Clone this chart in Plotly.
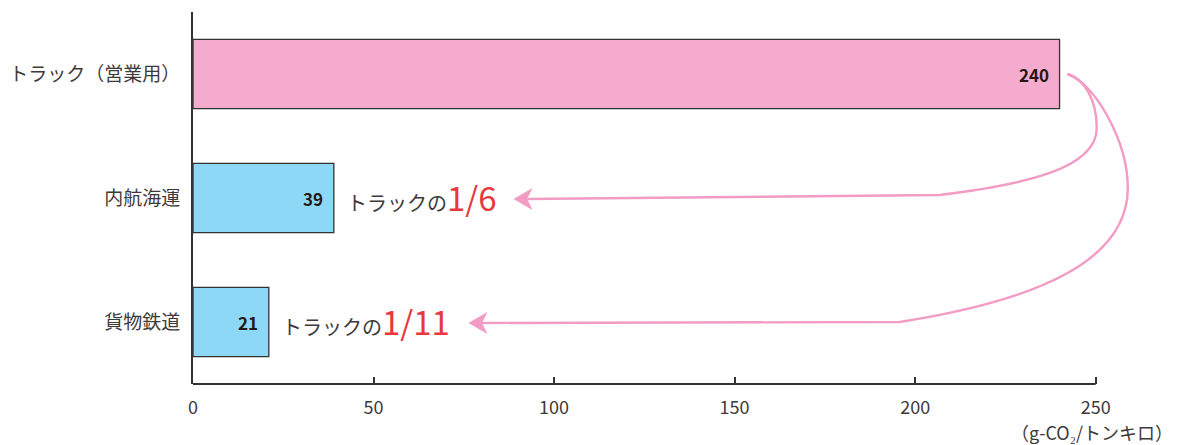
import plotly.graph_objects as go

# --- data -------------------------------------------------------------
modes = ["貨物鉄道", "内航海運", "トラック（営業用）"]
emissions = [21, 39, 240]                    # g-CO2 / トンキロ
ratio_labels = ["1/11", "1/6", None]
x_ticks = [0, 50, 100, 150, 200, 250]

bar_colors = ["#8DD8F6", "#8DD8F6", "#F4ABCD"]
arrow_color = "#F29BC4"
text_color = "#3E3A39"
jp_font = "Noto Sans CJK JP"

ypos = list(range(len(modes)))

fig = go.Figure()
fig.add_trace(go.Bar(
    y=ypos, x=emissions, orientation="h",
    width=0.56,
    marker=dict(color=bar_colors, line=dict(color="#333333", width=1.3)),
    hoverinfo="skip",
))

# value labels inside the bar ends
for y, v in zip(ypos, emissions):
    fig.add_annotation(
        x=v, y=y, xref="x", yref="y", text=f"<b>{v}</b>",
        xanchor="right", yanchor="middle", xshift=-9, showarrow=False,
        font=dict(family=jp_font, size=17, color="#231815"),
    )

# ratio call-outs next to the smaller bars
for y, v, r in zip(ypos, emissions, ratio_labels):
    if r is None:
        continue
    fig.add_annotation(
        x=v, y=y, xref="x", yref="y",
        text=("<span style='font-size:20px;color:#3E3A39'>トラックの</span>"
              f"<span style='font-size:33px;color:#E8383D'>{r}</span>"),
        xanchor="left", yanchor="middle", xshift=11, yshift=1, showarrow=False,
        font=dict(family=jp_font),
    )


def path_from(points):
    """Build an SVG path: first point is a move, then groups of 3 are cubic
    segments and a single trailing point is a straight line."""
    (x0, y0), rest = points[0], points[1:]
    d = f"M {x0},{y0}"
    i = 0
    while i + 3 <= len(rest) - 1:
        (a, b), (c, e), (f, g) = rest[i:i + 3]
        d += f" C {a},{b} {c},{e} {f},{g}"
        i += 3
    for (px, py) in rest[i:]:
        d += f" L {px},{py}"
    return d


def arrow_head(tx, ty):
    # notched arrowhead pointing left, tip at (tx, ty)
    L, N, H = 5.0, 3.6, 0.085
    return (f"M {tx},{ty} L {tx + L},{ty + H} L {tx + N},{ty} "
            f"L {tx + L},{ty - H} Z")


# curved arrows from the truck bar to each call-out (data units)
truck_y = ypos[2]
start = (emissions[2] + 2.2, truck_y)
arrows = [
    # towards 内航海運 (1/6)
    [start, (246.9, 1.96), (250.3, 1.79), (250.3, 1.565),
     (250.3, 1.226), (229.0, 1.105), (206.8, 1.024),
     (92.6, 0.992)],
    # towards 貨物鉄道 (1/11)
    [start, (249.7, 1.927), (258.9, 1.46), (258.9, 1.08),
     (258.9, 0.50), (234.5, 0.177), (195.7, 0.0),
     (80.0, -0.008)],
]
tips = [(88.9, 0.992), (76.4, -0.008)]

for pts, (tx, ty) in zip(arrows, tips):
    fig.add_shape(type="path", path=path_from(pts), xref="x", yref="y",
                  line=dict(color=arrow_color, width=2.4), layer="above")
    fig.add_shape(type="path", path=arrow_head(tx, ty), xref="x", yref="y",
                  line=dict(color=arrow_color, width=0.5),
                  fillcolor=arrow_color, layer="above")

# x axis baseline from 0 to 250
fig.add_shape(type="line", xref="x", yref="paper", x0=0, x1=x_ticks[-1],
              y0=0, y1=0, line=dict(color="#333333", width=2))

# unit label under the last tick
fig.add_annotation(
    x=x_ticks[-1], y=0, xref="x", yref="paper", yshift=-48, xshift=-4,
    text="（g-CO₂/トンキロ）", showarrow=False,
    xanchor="center", yanchor="middle",
    font=dict(family=jp_font, size=18, color=text_color),
)

fig.update_xaxes(
    range=[0, 262], tickvals=x_ticks, ticktext=[str(t) for t in x_ticks],
    ticks="inside", ticklen=7, tickwidth=2, tickcolor="#333333",
    showline=False, showgrid=False, zeroline=False, automargin=False,
    ticklabelstandoff=11,
    tickfont=dict(family=jp_font, size=18, color=text_color),
)
fig.update_yaxes(
    range=[-0.5, 2.5], tickvals=ypos, ticktext=modes,
    showline=True, linecolor="#333333", linewidth=2,
    showgrid=False, zeroline=False, ticks="", automargin=False,
    ticklabelstandoff=7,
    tickfont=dict(family=jp_font, size=19, color=text_color),
)
fig.update_layout(
    width=1177, height=445,
    margin=dict(l=193, r=38, t=12, b=61),
    plot_bgcolor="white", paper_bgcolor="white",
    showlegend=False, bargap=0.44,
)

fig.write_html("out.html")
